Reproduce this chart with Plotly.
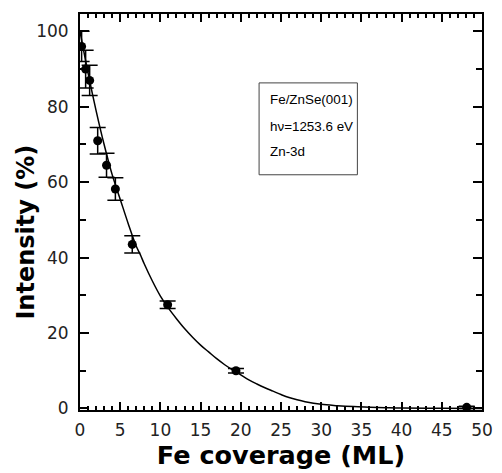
import plotly.graph_objects as go

# measured data points (Fe coverage in ML, intensity %, error)
cov = [0.2, 0.7, 1.2, 2.2, 3.3, 4.4, 6.5, 10.9, 19.4, 48.1]
inten = [96.0, 90.0, 87.0, 71.0, 64.5, 58.2, 43.5, 27.5, 10.0, 0.3]
err = [4.0, 5.0, 4.0, 3.5, 3.2, 3.0, 2.3, 1.0, 0.6, 0.3]

# fitted curve
fit_x = [0, 1, 2, 3, 4, 5, 6, 7, 7.5, 8, 9, 10, 11, 12, 13, 14, 15, 16, 17, 18,
         19, 20, 21, 22, 23, 24, 25, 26, 27, 28, 30, 32, 34, 36, 38, 40, 45, 50]
fit_y = [100, 89, 79, 70, 62, 55.5, 49, 43, 40.8, 38.3, 33.8, 29.8, 26.6, 23.8, 21.2,
         18.9, 16.8, 15.0, 13.2, 11.6, 10.2, 8.9, 7.6, 6.5, 5.5, 4.6, 3.7, 2.9, 2.3,
         1.8, 1.1, 0.75, 0.5, 0.35, 0.22, 0.12, 0.04, 0.0]

box_lines = ["Fe/ZnSe(001)", "hν=1253.6 eV", "Zn-3d"]
x_title = "Fe coverage (ML)"
y_title = "Intensity (%)"

fig = go.Figure()
fig.add_trace(go.Scatter(x=fit_x, y=fit_y, mode="lines",
                         line=dict(color="black", width=1.5, shape="spline"),
                         showlegend=False, hoverinfo="skip"))
fig.add_trace(go.Scatter(x=cov, y=inten, mode="markers",
                         marker=dict(color="black", size=9, symbol="circle"),
                         error_y=dict(type="data", array=err, visible=True,
                                      color="black", thickness=1.5, width=8),
                         showlegend=False))

# legend-like text box
fig.add_shape(type="rect", xref="paper", yref="paper",
              x0=0.4455, x1=0.69, y0=0.594, y1=0.826,
              line=dict(color="#444", width=1), fillcolor="white", layer="above")
for txt, yy in zip(box_lines, [0.783, 0.717, 0.654]):
    fig.add_annotation(text=txt, xref="paper", yref="paper", x=0.468, y=yy,
                       xanchor="left", yanchor="middle", showarrow=False,
                       font=dict(family="Liberation Sans, Arial", size=13.4, color="black"))

# y-axis title placed as rotated text
fig.add_annotation(text=y_title, xref="paper", yref="paper", x=0, y=0.448,
                   xanchor="center", yanchor="middle", xshift=-54, textangle=-90,
                   showarrow=False,
                   font=dict(family="DejaVu Sans", size=24, color="black", weight="bold"))

axis_common = dict(showline=True, linecolor="black", linewidth=2, mirror="allticks",
                   ticks="inside", tickcolor="black", tickwidth=1.5,
                   showgrid=False, zeroline=False,
                   tickfont=dict(family="DejaVu Sans", size=17, color="#222"))

fig.update_xaxes(range=[0, 50], dtick=5, tick0=0, ticklen=8,
                 minor=dict(dtick=1, ticklen=4, ticks="inside", tickcolor="black", tickwidth=1.5),
                 title_text=x_title, title_standoff=6, ticklabelstandoff=4,
                 title_font=dict(family="DejaVu Sans", size=25.5, color="black", weight="bold"),
                 **axis_common)
fig.update_yaxes(range=[-0.4, 104.6], dtick=20, tick0=0, ticklen=9,
                 minor=dict(dtick=10, ticklen=6, ticks="inside", tickcolor="black", tickwidth=1.5),
                 ticklabelstandoff=6,
                 **axis_common)

fig.update_layout(width=502, height=473, margin=dict(l=80, r=9, t=14, b=62),
                  plot_bgcolor="white", paper_bgcolor="white")

fig.write_html("out.html")
